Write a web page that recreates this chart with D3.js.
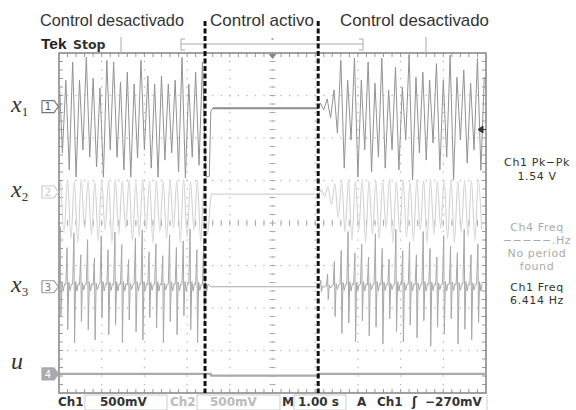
<!DOCTYPE html>
<html><head><meta charset="utf-8">
<script src="https://cdn.jsdelivr.net/npm/d3@7"></script>
<style>html,body{margin:0;padding:0;background:#fff;}svg{display:block}</style>
</head><body>
<svg id="c" width="576" height="410"></svg>
<script>
// ---------- data ----------
// time base: 1.00 s/div, 10 divisions; values in divisions relative to each channel's ground marker
const HALF = 0.08;            // half period of the oscillation (s)
const controlOn = 3.55, controlOff = 6.08;
const dashedAt = [3.42, 6.07];
const phaseLabels = ["Control desactivado", "Control activo", "Control desactivado"];
const channelNames = ["x", "x", "x", "u"];
const channelSubs = ["1", "2", "3", ""];
const channelGround = [2.74, 0.73, -1.5, -3.55];   // div from screen centre

const x1Pre = [0.81,-1.09,0.62,-1.49,1.05,-1.66,0.62,-1.02,1.16,-1.19,0.67,-1.42,0.44,-1.66,1.09,-1.02,1.05,-1.19,0.58,-1.49,0.81,-1.66,0.53,-1.21,1.09,-1.02,0.72,-1.45,0.53,-1.66,0.72,-1.26,0.53,-1.09,0.62,-1.54,1.16,-1.68,0.53,-1.19,0.81,-1.38,1.05,-1.66];
const x1Step = [[3.52,-1.64],[3.555,-0.12],[3.6,-0.04]];
const x1Hold = -0.04;
const x1Post = [0.08,-0.08,0.18,-0.27,0.39,-0.62,1.09,-1.45,0.62,-0.79,1.14,-1.66,0.62,-1.02,1.05,-1.54,0.55,-1.19,1.14,-1.45,0.39,-1.02,0.93,-1.49,0.46,-0.79,1.21,-1.73,0.69,-1.09,0.81,-1.26,0.62,-0.86,1.01,-1.49,0.62,-1.19,1.21,-1.73,0.69,-0.79,0.86,-1.33,0.55,-1.02,1.14,-1.5,0.7];

const x2Pre = [0.26,-0.95,0.28,-1.1,0.25,-1.2,0.3,-0.85,0.27,-1.0,0.24,-1.15,0.29,-0.9,0.26,-1.2,0.3,-1.0,0.25,-0.85,0.28,-1.15,0.24,-1.05,0.3,-0.9,0.26,-1.2,0.27,-0.95,0.25,-1.1,0.29,-0.85,0.26,-1.2,0.3,-1.05,0.24,-0.9,0.28,-1.15,0.26,-1.0];
const x2Hold = -0.05;
const x2Post = [0.05,-0.1,0.12,-0.3,0.2,-0.6,0.26,-0.95,0.28,-1.15,0.25,-0.9,0.3,-1.2,0.26,-1.0,0.27,-1.1,0.24,-0.85,0.29,-1.2,0.26,-0.95,0.3,-1.05,0.25,-1.15,0.28,-0.9,0.26,-1.2,0.3,-1.0,0.24,-0.85,0.27,-1.1,0.29,-1.2,0.25,-0.95,0.28,-1.05,0.26,-1.15,0.3,-0.9];

const x3PreUp = [1.41,0.92,1.27,0.75,1.11,0.68,1.2,0.87,1.29,0.99,0.64,1.15,1.34,0.82,1.01,0.73,1.22,0.92,1.08,1.36,0.87,1.15];
const x3PreDown = [-0.71,-1.01,-1.32,-0.82,-1.01,-1.25,-0.73,-1.13,-0.89,-1.32,-0.78,-1.06,-1.25,-0.73,-0.96,-1.32,-0.82,-1.13,-0.68,-1.01,-1.32,-0.89];
const x3PostUp = [0.15,0.3,0.6,0.85,1.3,0.8,1.0,0.7,1.25,0.9,0.65,1.35,0.85,1.05,0.75,1.3,0.9,0.7,1.2,0.95,0.8,1.35,0.75,1.0];
const x3PostDown = [-0.12,-0.3,-0.7,-1.1,-0.85,-1.3,-0.8,-1.15,-0.95,-1.35,-0.75,-1.05,-1.3,-0.9,-1.2,-0.8,-1.4,-0.95,-1.1,-0.75,-1.35,-1.0,-1.25,-0.85];
const x3Ripple = [0.06, 0.12, -0.1, 0.07];

const uTimes = [0, 3.55, 3.56, 6.08, 6.09, 10];
const uValues = [0, 0, -0.04, -0.04, 0, 0];

const triggerVolts = -0.27, ch1VoltsPerDiv = 0.5;

const readouts = [
  {t:"Ch1 Pk\u2212Pk", y:166, c:"#333"}, {t:"1.54 V", y:180, c:"#333"},
  {t:"Ch4 Freq", y:231, c:"#aaa"}, {t:"\u2212\u2212\u2212\u2212\u2212.Hz", y:244, c:"#aaa"},
  {t:"No period", y:257, c:"#aaa"}, {t:"found", y:270, c:"#aaa"},
  {t:"Ch1 Freq", y:291, c:"#333"}, {t:"6.414 Hz", y:304, c:"#333"}
];
const statusItems = [
  {t:"Ch1", x:58, c:"#333"}, {t:"500mV", x:100, c:"#333", box:[85,167]},
  {t:"Ch2", x:170, c:"#bbb"}, {t:"500mV", x:210, c:"#bbb", box:[197,280]},
  {t:"M", x:282, c:"#333"}, {t:"1.00 s", x:298, c:"#333", box:[294,346]},
  {t:"A", x:357, c:"#333"}, {t:"Ch1", x:377, c:"#333"},
  {t:"\u0283", x:412, c:"#333"}, {t:"\u2212270mV", x:425, c:"#333"}
];

// ---------- drawing ----------
const svg = d3.select("#c");
const L = 59, R = 486, T = 53, B = 393;
const X = d3.scaleLinear().domain([0, 10]).range([L, R]);
const Y = d3.scaleLinear().domain([4, -4]).range([T, B]);

// graticule dots
const g = svg.append("g");
const dots = [];
for (let i = 1; i < 10; i++) for (let j = 1; j < 40; j++) dots.push([X(i), Y(-4 + j / 5)]);
for (let j = 1; j < 8; j++) for (let k = 1; k < 50; k++) dots.push([X(k / 5), Y(-4 + j)]);
g.selectAll("rect.d").data(dots).join("rect").attr("class","d")
  .attr("x", d => d[0] - 0.6).attr("y", d => d[1] - 0.6).attr("width", 1.3).attr("height", 1.3).attr("fill", "#b5b5b5");
// centre axes ticks
const minorX = d3.range(1, 50).map(k => k / 5), minorY = d3.range(1, 40).map(j => -4 + j / 5);
g.selectAll("line.cx").data(minorX).join("line").attr("x1", d => X(d)).attr("x2", d => X(d))
  .attr("y1", Y(0) - 3).attr("y2", Y(0) + 3).attr("stroke", "#aaa").attr("stroke-width", 1);
g.selectAll("line.cy").data(minorY).join("line").attr("y1", d => Y(d)).attr("y2", d => Y(d))
  .attr("x1", X(5) - 3).attr("x2", X(5) + 3).attr("stroke", "#aaa").attr("stroke-width", 1);
// border ticks
g.selectAll("line.bt").data(minorX).join("line").attr("x1", d => X(d)).attr("x2", d => X(d))
  .attr("y1", T).attr("y2", T + 4).attr("stroke", "#999");
g.selectAll("line.bb").data(minorX).join("line").attr("x1", d => X(d)).attr("x2", d => X(d))
  .attr("y1", B).attr("y2", B - 4).attr("stroke", "#999");
g.selectAll("line.bl").data(minorY).join("line").attr("y1", d => Y(d)).attr("y2", d => Y(d))
  .attr("x1", L).attr("x2", L + 4).attr("stroke", "#999");
g.selectAll("line.br").data(minorY).join("line").attr("y1", d => Y(d)).attr("y2", d => Y(d))
  .attr("x1", R).attr("x2", R - 4).attr("stroke", "#999");
g.append("rect").attr("x", L).attr("y", T).attr("width", R - L).attr("height", B - T)
  .attr("fill", "none").attr("stroke", "#8a8a8a").attr("stroke-width", 1.6);

// clip
svg.append("clipPath").attr("id", "scr").append("rect").attr("x", L + 1).attr("y", T + 1).attr("width", R - L - 2).attr("height", B - T - 2);
const tr = svg.append("g").attr("clip-path", "url(#scr)");

const alt = (vals, t0) => vals.map((v, i) => [t0 + i * HALF, v]);
const lineFor = (ch, curve) => d3.line().x(d => X(d[0])).y(d => Y(channelGround[ch] + d[1])).curve(curve || d3.curveLinear);

// x1 (oscillating parts and held part)
const x1PrePts = [...alt(x1Pre, 0.0), ...x1Step];
const x1HoldPts = [x1Step[x1Step.length - 1], [controlOff, x1Hold]];
const x1PostPts = [[controlOff, x1Hold], ...alt(x1Post, 6.12)];
// x2
const x2Pts = [...alt(x2Pre, 0.04), [3.54, x2Pre[x2Pre.length-1]*0.3], [3.57, x2Hold], [controlOff, x2Hold], ...alt(x2Post, 6.14)];
// x3
function x3Cycles(up, down, t0) {
  const pts = [];
  up.forEach((u, k) => {
    const t = t0 + k * 2 * HALF;
    const s = Math.min(1, Math.abs(u));
    pts.push([t, x3Ripple[0] * s], [t + 0.03, u], [t + 0.045, down[k]],
             [t + 0.07, x3Ripple[1] * s], [t + 0.1, x3Ripple[2] * s], [t + 0.13, x3Ripple[3] * s]);
  });
  return pts;
}
const x3Pts = [...x3Cycles(x3PreUp, x3PreDown, 0.0), [controlOn, 0], [controlOff, 0], ...x3Cycles(x3PostUp, x3PostDown, 6.1)];
const uPts = uTimes.map((t, i) => [t, uValues[i]]);

tr.append("path").attr("d", lineFor(3)(uPts)).attr("fill", "none").attr("stroke", "#aaa").attr("stroke-width", 2.4);
tr.append("path").attr("d", lineFor(2)(x3Pts)).attr("fill", "none").attr("stroke", "#a8a8a8").attr("stroke-width", 1);
tr.append("path").attr("d", lineFor(1, d3.curveMonotoneX)(x2Pts)).attr("fill", "none").attr("stroke", "#d2d2d2").attr("stroke-width", 1.1);
tr.append("path").attr("d", lineFor(0)(x1PrePts)).attr("fill", "none").attr("stroke", "#939393").attr("stroke-width", 1);
tr.append("path").attr("d", lineFor(0)(x1HoldPts)).attr("fill", "none").attr("stroke", "#8a8a8a").attr("stroke-width", 2);
tr.append("path").attr("d", lineFor(0)(x1PostPts)).attr("fill", "none").attr("stroke", "#939393").attr("stroke-width", 1);

// trigger position & level markers
svg.append("path").attr("d", `M${X(5)-4},${T+1} L${X(5)+4},${T+1} L${X(5)},${T+6} Z`).attr("fill", "#888");
const ty = Y(channelGround[0] + triggerVolts / ch1VoltsPerDiv);
svg.append("path").attr("d", `M${R-8},${ty} L${R-3},${ty-3.5} L${R-3},${ty+3.5} Z M${R-4},${ty} L${R},${ty}`)
  .attr("fill", "#333").attr("stroke", "#333").attr("stroke-width", 1);

// channel markers and labels
const markerStyle = [{s:"#777", f:"#fff", t:"#555"}, {s:"#ccc", f:"#fff", t:"#c8c8c8"}, {s:"#999", f:"#fff", t:"#777"}, {s:"#aaa", f:"#aaa", t:"#fff"}];
channelGround.forEach((gd, i) => {
  const y = Y(gd);
  svg.append("path").attr("d", `M42,${y-6} H54 L58.5,${y} L54,${y+6} H42 Z`)
    .attr("fill", markerStyle[i].f).attr("stroke", markerStyle[i].s).attr("stroke-width", 1.2);
  svg.append("text").attr("x", 48).attr("y", y + 3.8).attr("text-anchor", "middle")
    .attr("font-family", "DejaVu Sans").attr("font-size", 10).attr("fill", markerStyle[i].t).text(String(i + 1));
  const lab = svg.append("text").attr("x", 11).attr("y", i === 3 ? y - 5 : y + 5.5)
    .attr("font-family", "Liberation Serif").attr("font-style", "italic").attr("font-size", 24).attr("fill", "#333");
  lab.append("tspan").text(channelNames[i]);
  if (channelSubs[i]) lab.append("tspan").attr("font-size", 13).attr("font-style", "normal").attr("dy", 4).text(channelSubs[i]);
});

// top bar
svg.append("text").attr("x", 41).attr("y", 49).attr("font-family", "Liberation Sans").attr("font-weight", "bold")
  .attr("font-size", 15.5).attr("fill", "#222").text("Tek");
svg.append("text").attr("x", 73).attr("y", 49).attr("font-family", "DejaVu Sans").attr("font-weight", "bold")
  .attr("font-size", 12.5).attr("fill", "#333").text("Stop");
const tb = svg.append("g").attr("stroke", "#aaa").attr("fill", "none").attr("stroke-width", 1);
tb.append("line").attr("x1", 121).attr("x2", 121).attr("y1", 37).attr("y2", 53);
tb.append("line").attr("x1", 426).attr("x2", 426).attr("y1", 37).attr("y2", 53);
tb.append("path").attr("d", "M185,39 H181 V50 H185 M359,39 H363 V50 H359 M181,44 H363");
tb.append("line").attr("x1", X(5)).attr("x2", X(5)).attr("y1", 38).attr("y2", 40).attr("stroke-width", 2);

// dashed phase separators
svg.selectAll("line.dash").data(dashedAt).join("line").attr("x1", d => X(d)).attr("x2", d => X(d))
  .attr("y1", 21).attr("y2", B).attr("stroke", "#111").attr("stroke-width", 3).attr("stroke-dasharray", "5,2.5");

// phase labels
const phaseX = [40, 210, 340], phaseW = [144, 104, 149];
phaseLabels.forEach((t, i) => svg.append("text").attr("x", phaseX[i]).attr("y", 26)
  .attr("font-family", "Liberation Sans").attr("font-size", 17).attr("fill", "#333")
  .attr("textLength", phaseW[i]).attr("lengthAdjust", "spacingAndGlyphs").text(t));

// readouts
readouts.forEach(r => svg.append("text").attr("x", 537).attr("y", r.y).attr("text-anchor", "middle")
  .attr("font-family", "DejaVu Sans").attr("font-size", 11).attr("letter-spacing", 0.6).attr("fill", r.c).text(r.t));

// status bar
statusItems.forEach(s => {
  if (s.box) svg.append("rect").attr("x", s.box[0]).attr("y", 395).attr("width", s.box[1] - s.box[0]).attr("height", 15)
    .attr("fill", "none").attr("stroke", "#ccc").attr("stroke-width", 1);
  svg.append("text").attr("x", s.x).attr("y", 406).attr("font-family", "DejaVu Sans").attr("font-weight", "bold")
    .attr("font-size", 12).attr("fill", s.c).text(s.t);
});
svg.append("line").attr("x1", 487).attr("x2", 487).attr("y1", 395).attr("y2", 410).attr("stroke", "#ccc");
</script>
</body></html>
